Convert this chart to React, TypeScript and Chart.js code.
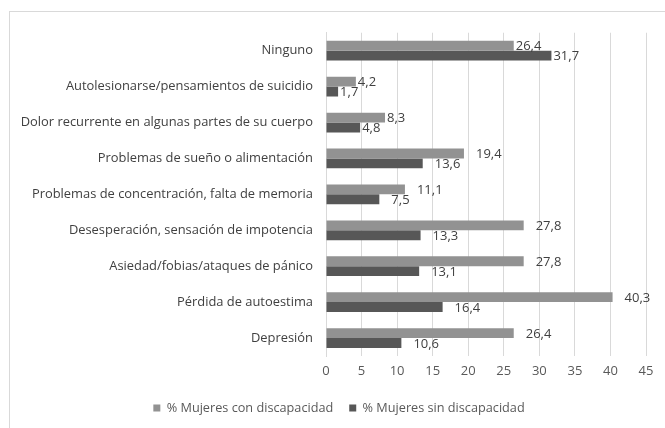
import React, { useEffect, useRef } from "react";
import { Chart, registerables } from "chart.js";

Chart.register(...registerables);

const categories = [
  "Ninguno",
  "Autolesionarse/pensamientos de suicidio",
  "Dolor recurrente en algunas partes de su cuerpo",
  "Problemas de sueño o alimentación",
  "Problemas de concentración, falta de memoria",
  "Desesperación, sensación de impotencia",
  "Asiedad/fobias/ataques de pánico",
  "Pérdida de autoestima",
  "Depresión",
];

const conDiscapacidad = [26.4, 4.2, 8.3, 19.4, 11.1, 27.8, 27.8, 40.3, 26.4];
const sinDiscapacidad = [31.7, 1.7, 4.8, 13.6, 7.5, 13.3, 13.1, 16.4, 10.6];

const seriesNames = ["% Mujeres con discapacidad", "% Mujeres sin discapacidad"];

const X_MIN = 0;
const X_MAX = 45;
const X_STEP = 5;

const FONT = "'Open Sans', 'Noto Sans', sans-serif";

export default function App() {
  const ref = useRef<HTMLCanvasElement | null>(null);

  useEffect(() => {
    if (!ref.current) return;

    const labelPlugin = {
      id: "barValueLabels",
      afterDatasetsDraw(chart: any) {
        const ctx = chart.ctx;
        ctx.save();
        ctx.font = `13px ${FONT}`;
        ctx.fillStyle = "#404040";
        ctx.textAlign = "left";
        ctx.textBaseline = "middle";
        chart.data.datasets.forEach((ds: any, di: number) => {
          const meta = chart.getDatasetMeta(di);
          meta.data.forEach((bar: any, i: number) => {
            const v = ds.data[i] as number;
            const txt = v.toFixed(1).replace(".", ",");
            const nudge = i < 3 ? 2 : 12;
            ctx.fillText(txt, bar.x + nudge, bar.y + 1);
          });
        });
        ctx.restore();
      },
    };

    const legendShift = {
      id: "legendShift",
      afterLayout(chart: any) {
        const lg = chart.legend;
        if (lg) {
          lg.left += 11;
          lg.right += 11;
        }
      },
    };

    const chart = new Chart(ref.current, {
      type: "bar",
      data: {
        labels: categories,
        datasets: [
          {
            label: seriesNames[0],
            data: conDiscapacidad,
            backgroundColor: "#929292",
            borderWidth: 0,
            categoryPercentage: 0.55,
            barPercentage: 1.0,
          },
          {
            label: seriesNames[1],
            data: sinDiscapacidad,
            backgroundColor: "#575757",
            borderWidth: 0,
            categoryPercentage: 0.55,
            barPercentage: 1.0,
          },
        ],
      },
      options: {
        indexAxis: "y",
        responsive: false,
        animation: false,
        layout: { padding: { left: 0, right: 40, top: 19, bottom: 7.7 } },
        plugins: {
          tooltip: { enabled: false },
          legend: {
            position: "bottom",
            labels: {
              boxWidth: 7,
              boxHeight: 7,
              padding: 16,
              color: "#595959",
              font: { family: FONT, size: 12.7 },
            },
          },
        },
        scales: {
          x: {
            min: X_MIN,
            max: X_MAX,
            ticks: {
              stepSize: X_STEP,
              color: "#595959",
              font: { family: FONT, size: 13 },
              padding: 7,
            },
            grid: { color: "#d9d9d9", drawTicks: false, lineWidth: 1 },
            border: { display: false },
          },
          y: {
            ticks: {
              color: "#404040",
              font: { family: FONT, size: 12.9 },
              padding: 13,
            },
            grid: { display: false, drawTicks: false },
            border: { display: true, color: "#d9d9d9" },
            afterFit: (scale: any) => {
              scale.width = 316;
            },
          },
        },
      },
      plugins: [labelPlugin, legendShift],
    });

    return () => chart.destroy();
  }, []);

  return (
    <div
      style={{
        position: "absolute",
        left: 0,
        top: 0,
        width: 665,
        height: 428,
        overflow: "hidden",
        background: "#ffffff",
      }}
    >
      <div
        style={{
          position: "absolute",
          left: 9,
          top: 11,
          width: 676,
          height: 420,
          borderLeft: "1px solid #d9d9d9",
          borderTop: "1px solid #d9d9d9",
        }}
      >
        <canvas ref={ref} width={676} height={420} style={{ display: "block", width: 676, height: 420 }} />
      </div>
    </div>
  );
}
